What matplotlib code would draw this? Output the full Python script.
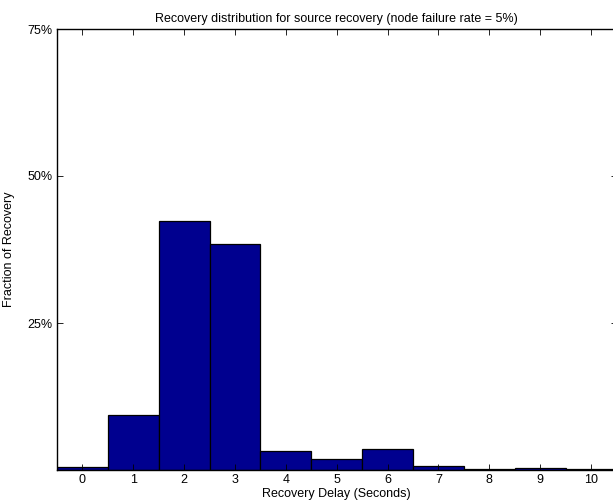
import matplotlib
matplotlib.use("Agg")
import matplotlib.pyplot as plt

# recovery delay bins (seconds) and fraction of recoveries in each
delays = [0, 1, 2, 3, 4, 5, 6, 7, 8, 9, 10]
fractions = [0.005, 0.094, 0.423, 0.384, 0.033, 0.019, 0.036, 0.007, 0.002, 0.004, 0.0015]

y_ticks = [0, 0.25, 0.5, 0.75]
y_labels = ["", "25%", "50%", "75%"]

plt.rcParams["font.family"] = ["Liberation Sans", "DejaVu Sans"]

fig = plt.figure(figsize=(6.13, 5.03), dpi=100)
ax = fig.add_axes([57 / 613, 1 - 470 / 503, (616.5 - 57) / 613, (470 - 29) / 503])

ax.bar(delays, fractions, width=1.0, color="#00008F", edgecolor="black", linewidth=0.9)

ax.set_xlim(-0.5, 10.5)
ax.set_ylim(0, 0.75)
ax.set_xticks(delays)
ax.set_yticks(y_ticks)
ax.set_yticklabels(y_labels)

ax.tick_params(axis="both", direction="in", top=True, right=True, labelsize=9,
               length=4, width=0.6, pad=3)
for s in ax.spines.values():
    s.set_linewidth(1.0)

ax.set_title("Recovery distribution for source recovery (node failure rate = 5%)",
             fontsize=9, pad=5)
ax.set_xlabel("Recovery Delay (Seconds)", fontsize=9, labelpad=1)
ax.set_ylabel("Fraction of Recovery", fontsize=9)
ax.yaxis.set_label_coords(-0.075, 0.5)

fig.savefig("out.png", dpi=100)
